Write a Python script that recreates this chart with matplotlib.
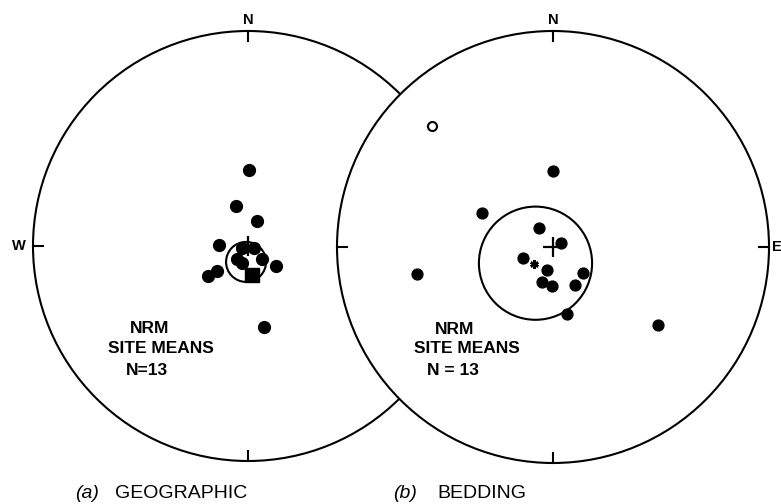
import matplotlib
matplotlib.use("Agg")
import matplotlib.pyplot as plt
import numpy as np
from matplotlib.patches import Circle

# Site means, normalised net coordinates (x east, y north, net radius = 1)

geo_x = [0.005, -0.056, 0.042, -0.135, -0.028, 0.028, -0.051, -0.028, 0.065, 0.130, -0.144, -0.186, 0.074]
geo_y = [0.353, 0.186, 0.116, 0.005, -0.009, -0.009, -0.060, -0.079, -0.060, -0.093, -0.116, -0.140, -0.377]
geo_square = [0.019, -0.135]
geo_mean = [-0.009, -0.074]
geo_a95 = 0.093

bed_x = [0.0, -0.329, -0.065, 0.037, -0.139, -0.028, 0.139, -0.630, -0.051, -0.005, 0.102, 0.065, 0.486]
bed_y = [0.352, 0.157, 0.088, 0.019, -0.051, -0.106, -0.120, -0.125, -0.162, -0.181, -0.176, -0.310, -0.361]
bed_open = [-0.560, 0.560]
bed_star = [-0.088, -0.079]
bed_mean = [-0.081, -0.075]
bed_a95 = 0.262

text_lines = ["NRM", "SITE MEANS"]
n_label_a = "N=13"
n_label_b = "N = 13"

W, H = 781, 504
LW = 1.5
FONT = ["Liberation Sans Narrow", "Liberation Sans", "DejaVu Sans"]

fig = plt.figure(figsize=(W / 100, H / 100), dpi=100)


def net_axes(cx, cy, r, z):
    ax = fig.add_axes([(cx - r) / W, (H - cy - r) / H, 2 * r / W, 2 * r / H], zorder=z)
    ax.set_xlim(-1, 1)
    ax.set_ylim(-1, 1)
    ax.axis("off")
    ax.patch.set_visible(False)
    return ax


def draw_net(ax, ticks):
    # white fill so the net hides whatever lies underneath
    ax.add_patch(Circle((0, 0), 1, facecolor="white", edgecolor="black", lw=LW, clip_on=False, zorder=1))
    t = 0.047
    if "N" in ticks:
        ax.plot([0, 0], [1, 1 - t], color="black", lw=LW, clip_on=False, zorder=2)
    if "S" in ticks:
        ax.plot([0, 0], [-1, -1 + t], color="black", lw=LW, clip_on=False, zorder=2)
    if "W" in ticks:
        ax.plot([-1, -1 + t], [0, 0], color="black", lw=LW, clip_on=False, zorder=2)
    if "E" in ticks:
        ax.plot([1, 1 - t], [0, 0], color="black", lw=LW, clip_on=False, zorder=2)
    ax.text(0, 1.051, "N", ha="center", va="center", fontsize=10.5, fontweight="bold", family=FONT)
    # centre cross
    ax.plot(0, 0, marker="+", markersize=14, mew=1.6, color="black", zorder=4)


def site_text(ax, pos, nlab):
    ys = [pos[1], pos[1] - 0.090]
    xs = [pos[0], pos[0] + 0.056]
    for k in range(2):
        ax.text(xs[k], ys[k], text_lines[k], ha="center", va="center", fontsize=12.5,
                fontweight="bold", family=FONT)
    ax.text(pos[0] - 0.008, pos[1] - 0.193, nlab, ha="center", va="center", fontsize=12.5,
            fontweight="bold", family=FONT)


# (a) geographic
ax1 = net_axes(248, 246, 215, 1)
draw_net(ax1, "NSW")
ax1.text(-1.065, 0, "W", ha="center", va="center", fontsize=10.5, fontweight="bold", family=FONT)
ax1.plot(geo_x, geo_y, "o", color="black", markersize=8.5, zorder=5)
ax1.plot(geo_square[0], geo_square[1], "s", color="black", markersize=9.5, zorder=5)
ax1.add_patch(Circle(geo_mean, geo_a95, facecolor="none", edgecolor="black", lw=LW, zorder=3))
site_text(ax1, (-0.460, -0.386), n_label_a)

# (b) bedding, drawn on top of the first net
ax2 = net_axes(553, 247, 216, 2)
draw_net(ax2, "NSWE")
ax2.text(1.012, 0, "E", ha="left", va="center", fontsize=10.5, fontweight="bold", family=FONT)
ax2.plot(bed_x, bed_y, "o", color="black", markersize=7.8, zorder=5)
ax2.plot(bed_open[0], bed_open[1], "o", mfc="white", mec="black", mew=1.5, markersize=6.5, zorder=5)
ax2.plot(bed_star[0], bed_star[1], marker=(6, 2, 0), color="black", markersize=6, mew=1.8, zorder=5)
ax2.add_patch(Circle(bed_mean, bed_a95, facecolor="none", edgecolor="black", lw=LW, zorder=3))
site_text(ax2, (-0.454, -0.380), n_label_b)

# captions
fig.text(75 / W, 1 - 494 / H, "(a)", ha="left", va="center", fontsize=14, style="italic", family=FONT)
fig.text(115 / W, 1 - 494 / H, "GEOGRAPHIC", ha="left", va="center", fontsize=14, family=FONT)
fig.text(393 / W, 1 - 494 / H, "(b)", ha="left", va="center", fontsize=14, style="italic", family=FONT)
fig.text(437 / W, 1 - 494 / H, "BEDDING", ha="left", va="center", fontsize=14, family=FONT)

fig.savefig("out.png", dpi=100, facecolor="white")
